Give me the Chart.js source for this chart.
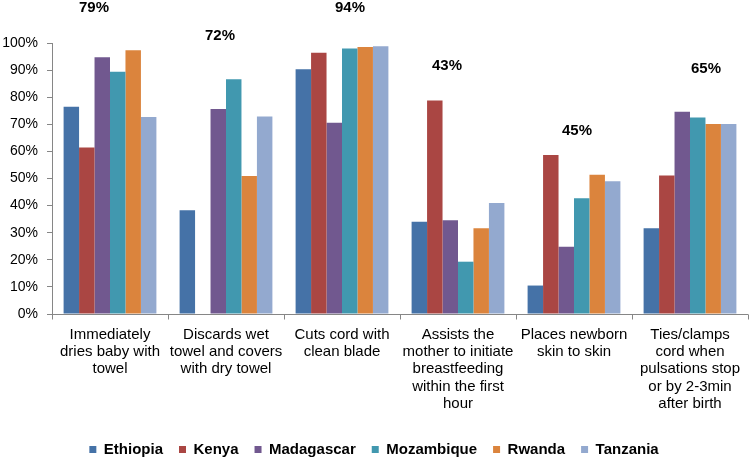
<!DOCTYPE html>
<html>
<head>
<meta charset="utf-8">
<script src="https://cdn.jsdelivr.net/npm/chart.js@4/dist/chart.umd.min.js"></script>
<style>
  html, body { margin: 0; padding: 0; background: #fff; }
  #wrap { width: 750px; height: 460px; }
</style>
</head>
<body>
<div id="wrap"><canvas id="chart"></canvas></div>
<script>
const categories = [
  ["Immediately", "dries baby with", "towel"],
  ["Discards wet", "towel and covers", "with dry towel"],
  ["Cuts cord with", "clean blade"],
  ["Assists the", "mother to initiate", "breastfeeding", "within the first", "hour"],
  ["Places newborn", "skin to skin"],
  ["Ties/clamps", "cord when", "pulsations stop", "or by 2-3min", "after birth"],
];

const ethiopia   = [76.5, 38.3, 90.3, 34.0, 10.5, 31.6];
const kenya      = [61.4, 0,    96.4, 78.8, 58.7, 51.1];
const madagascar = [94.7, 75.6, 70.6, 34.6, 24.8, 74.6];
const mozambique = [89.4, 86.6, 98.0, 19.3, 42.7, 72.5];
const rwanda     = [97.3, 50.9, 98.5, 31.6, 51.4, 70.1];
const tanzania   = [72.7, 72.9, 98.8, 41.0, 49.0, 70.1];

// overall figure printed above each group
const overall = [79, 72, 94, 43, 45, 65];

// where those figures sit: x shift from the group centre (px), height in axis units
const overallDx = [-16, -6, 8, -11, 3, 16];
const overallAt = [113, 102.8, 113, 91.7, 67.7, 90.5];

const FONT = '"Liberation Sans", Arial, sans-serif';
const AXIS = "#868686";

const series = [
  { label: "Ethiopia",   data: ethiopia,   color: "#4572A7" },
  { label: "Kenya",      data: kenya,      color: "#AA4643" },
  { label: "Madagascar", data: madagascar, color: "#71588F" },
  { label: "Mozambique", data: mozambique, color: "#4198AF" },
  { label: "Rwanda",     data: rwanda,     color: "#DB843D" },
  { label: "Tanzania",   data: tanzania,   color: "#93A9CF" },
];

const overallLabels = {
  id: "overallLabels",
  afterDatasetsDraw(chart) {
    const { ctx, scales: { x, y } } = chart;
    ctx.save();
    ctx.font = `bold 15px ${FONT}`;
    ctx.fillStyle = "#000";
    ctx.textAlign = "center";
    ctx.textBaseline = "middle";
    overall.forEach((v, i) => {
      ctx.fillText(`${v}%`, x.getPixelForValue(i) + overallDx[i], y.getPixelForValue(overallAt[i]));
    });
    ctx.restore();
  },
};

// category axis line plus the short marks between categories
const categoryAxis = {
  id: "categoryAxis",
  afterDraw(chart) {
    const { ctx, scales: { x } } = chart;
    const base = Math.round(x.top) + 0.5;
    ctx.save();
    ctx.strokeStyle = AXIS;
    ctx.lineWidth = 1;
    ctx.beginPath();
    ctx.moveTo(x.left, base);
    ctx.lineTo(x.right, base);
    for (let i = 0; i <= categories.length; i++) {
      const px = Math.round(x.getPixelForValue(i - 0.5)) + 0.5;
      ctx.moveTo(px, base);
      ctx.lineTo(px, base + 5);
    }
    ctx.stroke();
    ctx.restore();
  },
};

new Chart(document.getElementById("chart"), {
  type: "bar",
  data: {
    labels: categories,
    datasets: series.map((s) => ({
      label: s.label,
      data: s.data,
      backgroundColor: s.color,
      borderWidth: 0,
      categoryPercentage: 0.8,
      barPercentage: 1.0,
    })),
  },
  options: {
    responsive: true,
    maintainAspectRatio: false,
    animation: false,
    layout: { padding: { top: 43, right: 2, left: 0, bottom: -7 } },
    plugins: {
      legend: {
        position: "bottom",
        labels: {
          boxWidth: 7,
          boxHeight: 7,
          padding: 16,
          color: "#000",
          font: { family: FONT, size: 15, weight: "bold" },
        },
      },
      tooltip: { enabled: false },
    },
    scales: {
      x: {
        grid: { display: false },
        ticks: {
          color: "#000",
          autoSkip: false,
          maxRotation: 0,
          padding: 4,
          font: { family: FONT, size: 15, lineHeight: 1.15 },
        },
        afterFit: (s) => { s.height = 112; },
      },
      y: {
        min: 0,
        max: 100,
        grid: { display: true, drawOnChartArea: false, drawTicks: true, tickLength: 5, color: AXIS },
        border: { color: AXIS },
        ticks: {
          stepSize: 10,
          padding: 9,
          color: "#000",
          font: { family: FONT, size: 14 },
          callback: (v) => `${v}%`,
        },
        afterFit: (s) => { s.width = 52; },
      },
    },
  },
  plugins: [overallLabels, categoryAxis],
});
</script>
</body>
</html>
